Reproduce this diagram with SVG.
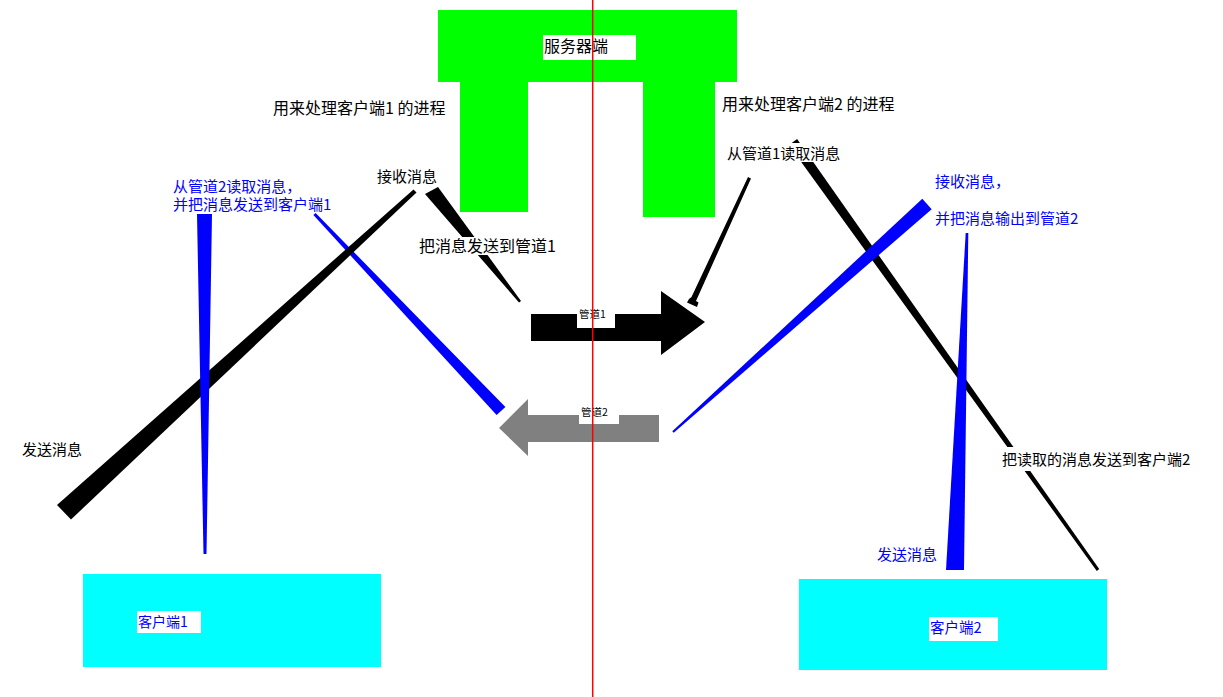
<svg xmlns="http://www.w3.org/2000/svg" width="1223" height="697" viewBox="0 0 1223 697">
<style>
text{font-family:"Noto Sans CJK SC","Noto Sans",sans-serif;}
.k{fill:#000;font-size:15px;}
.k16{fill:#000;font-size:16px;}
.b{fill:#0000ff;font-size:15px;}
.sm{fill:#000;font-size:10.5px;}
.bg{fill:#fff;}
.wk{fill:#000;}
.wb{fill:#0000ff;}
</style>
<rect width="1223" height="697" fill="#fff"/>
<g id="server">
<path d="M438,10 H737 V82 H715 V217 H643 V82 H528 V212 H460 V82 H438 Z" fill="#00ff00"/>
<rect class="bg" x="543" y="35" width="93" height="25"/>
<text class="k16" x="544" y="52">服务器端</text>
</g>
<g id="client1">
<rect x="83" y="574" width="298" height="93" fill="#00ffff"/>
<rect class="bg" x="137" y="611" width="64" height="22"/>
<text x="138" y="627" font-size="14" fill="#0000ff">客户端1</text>
</g>
<g id="client2">
<rect x="799" y="579" width="308" height="91" fill="#00ffff"/>
<rect class="bg" x="929" y="617" width="69" height="24"/>
<text x="930" y="633" font-size="14.5" fill="#0000ff">客户端2</text>
</g>
<g id="pipe1">
<path d="M531,314 H661 V291 L705,322 L661,355 V341 H531 Z" fill="#000"/>
<rect class="bg" x="577" y="308" width="38" height="20"/>
<text class="sm" x="579" y="318">管道1</text>
</g>
<g id="pipe2">
<path d="M659,415 H528 V399 L499,428 L528,456 V442 H659 Z" fill="#808080"/>
<rect class="bg" x="579" y="404" width="40" height="20"/>
<text class="sm" x="581" y="416">管道2</text>
</g>
<g id="connectors">
<polygon class="wb" points="313.4,215 315.6,213 505.4,406.9 496.6,415.1"/>
<polygon class="wk" points="57,505 71,519.5 416.5,192.5 413.5,189.5"/>
<polygon class="wb" points="197,214 212,214 206.5,554 203.5,554"/>
<polygon class="wk" points="425,194 438,187 521,301 519,302.5"/>
<polygon class="wk" points="748,177 751,178.5 696,301 698.5,302.5 697,307 687,302.5 689,299 691.5,297"/>
<polygon class="wk" points="797.1,139.1 788.9,144.9 1096.8,570.9 1099.2,569.1"/>
<polygon class="wb" points="931.7,209.2 922.3,198.8 672.3,431.3 673.7,432.7"/>
<polygon class="wb" points="965.7,233 968.3,233 964,570 946,570"/>
</g>
<g id="labels">
<text class="k16" x="273" y="114">用来处理客户端1 的进程</text>
<text class="k16" x="722" y="110">用来处理客户端2 的进程</text>
<text class="k" x="377" y="182">接收消息</text>
<text class="b" x="173" y="192">从管道2读取消息，</text>
<text class="b" x="173" y="210">并把消息发送到客户端1</text>
<rect class="bg" x="418" y="237" width="138" height="18"/>
<text class="k16" x="419" y="252">把消息发送到管道1</text>
<rect class="bg" x="726" y="143" width="113" height="19"/>
<text class="k" x="727" y="159">从管道1读取消息</text>
<text class="b" x="935" y="187">接收消息，</text>
<text class="b" x="935" y="224">并把消息输出到管道2</text>
<text class="k" x="22" y="455">发送消息</text>
<rect class="bg" x="1000" y="447" width="191" height="24"/>
<text class="k" x="1002" y="465">把读取的消息发送到客户端2</text>
<text class="b" x="877" y="560">发送消息</text>
</g>
<line x1="592.7" y1="0" x2="592.7" y2="697" stroke="#ff0000" stroke-width="1.5"/>
</svg>
